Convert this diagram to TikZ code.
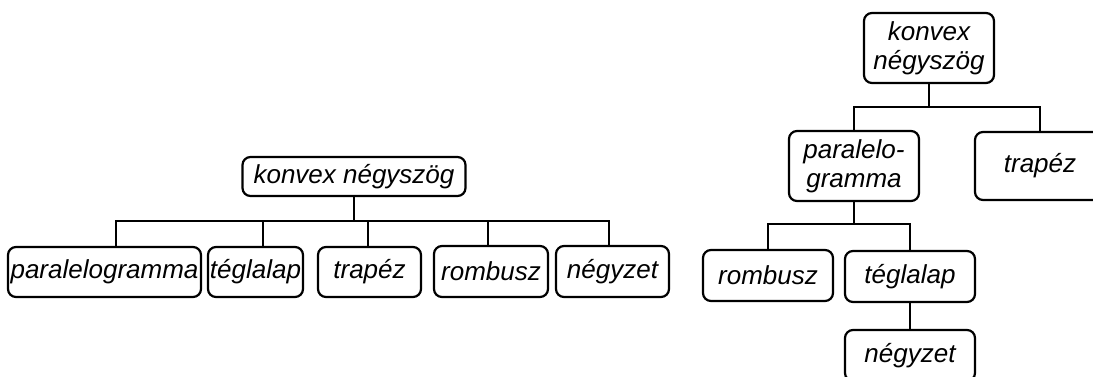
\documentclass[tikz,border=0pt]{standalone}
\usepackage{fontspec}
\setmainfont{Liberation Sans}
\begin{document}
\begin{tikzpicture}[x=1pt,y=-1pt,
  box/.style={draw,line width=2.2pt,rounded corners=8pt,inner sep=0pt,
    align=center,font=\itshape\fontsize{26}{29}\selectfont},
  link/.style={line width=2.2pt}]
\useasboundingbox (0,0) rectangle (1093,376);
\clip (0,0) rectangle (1093,376);

% flat classification
\node[box,minimum width=223pt,minimum height=39pt] (k1) at (354,176.5) {konvex négyszög};
\node[box,minimum width=193pt,minimum height=50pt] (p1) at (104.5,272) {paralelogramma};
\node[box,minimum width=95pt,minimum height=50pt] (t1) at (255.5,272) {téglalap};
\node[box,minimum width=103pt,minimum height=50pt] (tr1) at (369.5,272) {trapéz};
\node[box,minimum width=114pt,minimum height=51pt] (r1) at (491,271.5) {rombusz};
\node[box,minimum width=113pt,minimum height=51pt] (n1) at (612.5,271.5) {négyzet};
\coordinate (b1) at (354,221);
\draw[link] (k1.south) -- (b1);
\draw[link] ([xshift=11.5pt]p1.north) |- (b1) -| ([xshift=-3.5pt]n1.north);
\draw[link] ([xshift=7.5pt]t1.north) -- ([xshift=7.5pt]t1.north |- b1);
\draw[link] ([xshift=-1.5pt]tr1.north) -- ([xshift=-1.5pt]tr1.north |- b1);
\draw[link] ([xshift=-3pt]r1.north) -- ([xshift=-3pt]r1.north |- b1);

% hierarchical classification
\node[box,minimum width=130pt,minimum height=70pt] (k2) at (929,48) {konvex\\négyszög};
\node[box,minimum width=130pt,minimum height=70pt] (p2) at (854,166) {paralelo-\\gramma};
\node[box,minimum width=130pt,minimum height=68pt] (tr2) at (1040,166) {trapéz};
\node[box,minimum width=130pt,minimum height=51pt] (r2) at (768,275.5) {rombusz};
\node[box,minimum width=130pt,minimum height=51pt] (t2) at (910,276.5) {téglalap};
\node[box,minimum width=130pt,minimum height=51pt] (n2) at (910,355.5) {négyzet};
\coordinate (b2) at (929,107);
\coordinate (b3) at (854,224);
\draw[link] (k2.south) -- (b2);
\draw[link] (p2.north) |- (b2) -| (tr2.north);
\draw[link] (p2.south) -- (b3);
\draw[link] (r2.north) |- (b3) -| (t2.north);
\draw[link] (t2.south) -- (n2.north);
\end{tikzpicture}
\end{document}
